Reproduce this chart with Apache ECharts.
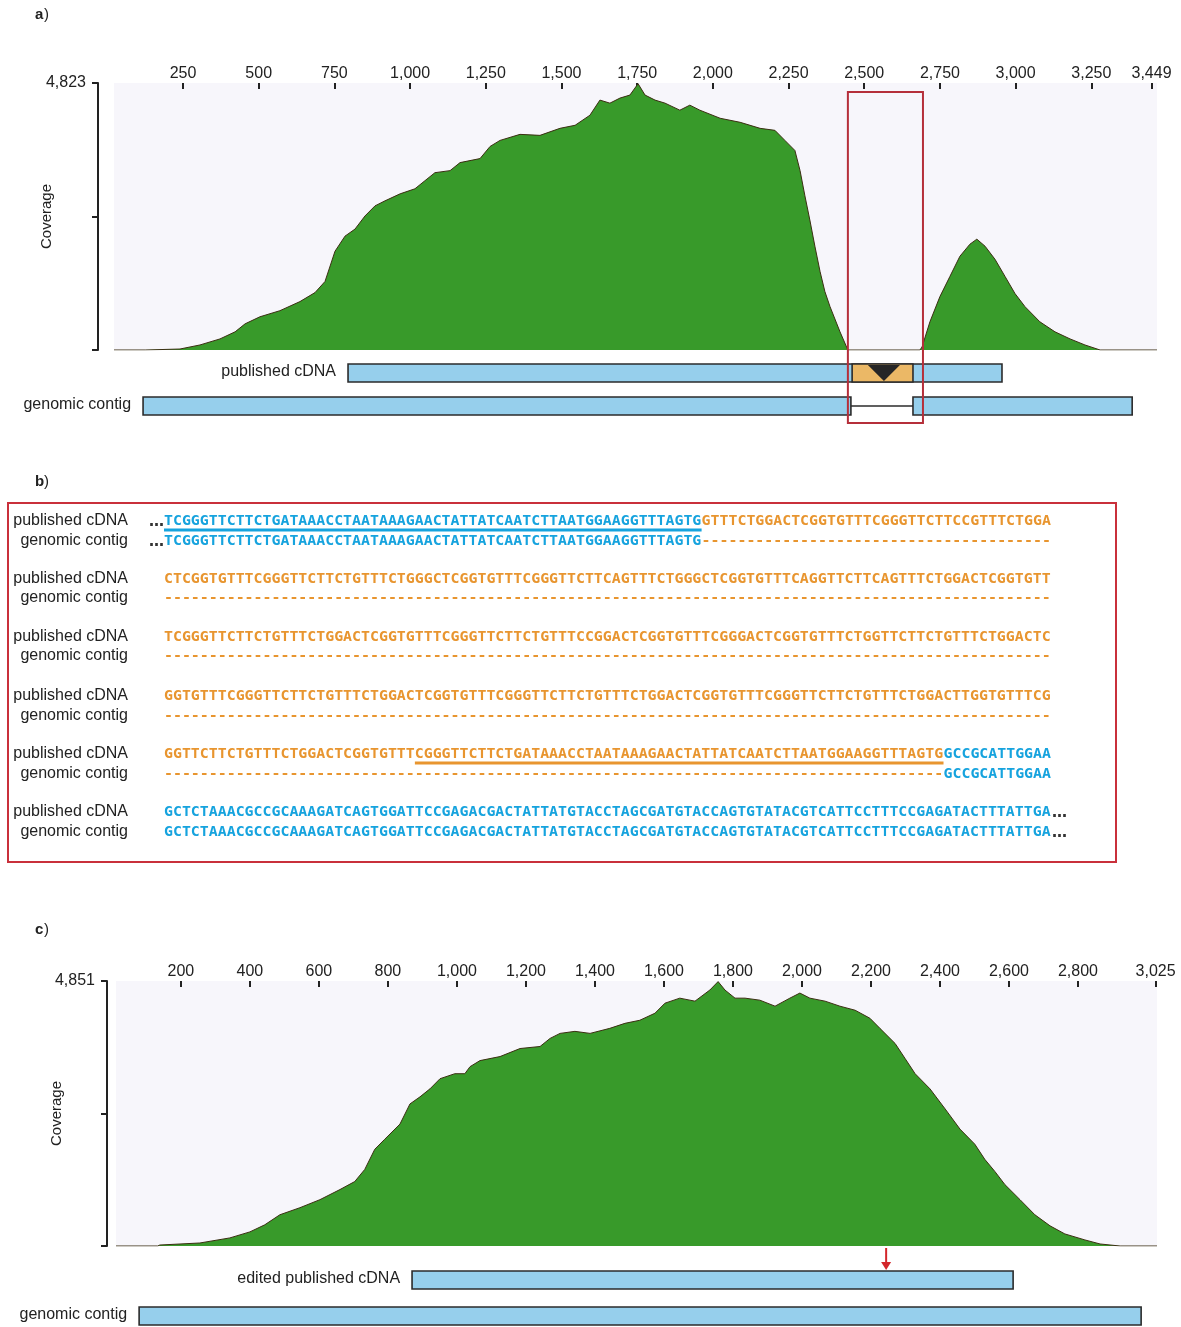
<!DOCTYPE html>
<html><head><meta charset="utf-8">
<script src="https://cdn.jsdelivr.net/npm/echarts@6/dist/echarts.min.js"></script>
<style>html,body{margin:0;padding:0;background:#fff}#c{width:1181px;height:1327px}</style>
</head><body><div id="c"></div>
<script>
// ---------- DATA ----------
// panel a coverage (position, coverage)
const covAPos = [22,125,240,306,372,422,455,504,570,636,686,719,752,785,818,851,884,917,967,1016,1049,1082,1132,1165,1231,1264,1297,1363,1429,1495,1545,1594,1627,1660,1693,1726,1753,1776,1809,1842,1891,1924,1957,2024,2090,2156,2205,2238,2271,2288,2304,2321,2337,2354,2370,2387,2420,2446,2684,2691,2717,2750,2783,2816,2849,2872,2899,2932,2965,2998,3031,3080,3130,3180,3229,3279,3467];
const covAVal = [0,0,18,91,200,328,473,600,710,874,1037,1238,1784,2057,2184,2421,2603,2694,2821,2912,3058,3203,3240,3385,3458,3676,3786,3895,3877,4004,4059,4241,4514,4459,4550,4605,4810,4605,4514,4459,4332,4423,4332,4186,4113,4004,3968,3786,3604,3240,2785,2330,1875,1420,1056,783,328,0,0,55,510,965,1329,1693,1911,2002,1875,1638,1329,1019,783,510,328,200,91,0,0];
const ticksA = [250,500,750,1000,1250,1500,1750,2000,2250,2500,2750,3000,3250,3449];
const maxA = 4823;
// panel a tracks
const tracksALabels = ['published cDNA', 'genomic contig'];
const barsA = [[795, 2955, 0], [118, 2456, 1], [2661, 3385, 1]];
const barsALabel = ['published cDNA', 'genomic contig', ''];
const insertA = [[2460, 2661, 0, 2512, 2618]];
const intronA = [[2456, 2661, 1]];
const boxA = [[2446, 2694, 0]];

// panel c coverage
const covCPos = [12,133,139,255,342,400,443,487,545,603,661,704,733,762,791,835,864,893,922,951,994,1023,1038,1067,1125,1183,1241,1270,1299,1342,1386,1443,1487,1530,1574,1603,1646,1690,1733,1757,1777,1806,1835,1878,1922,1965,1994,2023,2067,2110,2154,2197,2226,2270,2299,2328,2371,2415,2458,2501,2530,2559,2588,2632,2675,2719,2762,2820,2864,2922,3029];
const covCVal = [0,0,18,55,148,258,387,572,701,848,1033,1180,1402,1771,1955,2232,2601,2730,2877,3062,3154,3154,3283,3394,3468,3615,3652,3800,3892,3929,3892,3984,4076,4132,4261,4445,4537,4482,4685,4840,4685,4537,4537,4500,4390,4537,4630,4537,4482,4390,4316,4169,3984,3707,3431,3154,2877,2509,2140,1863,1586,1365,1125,848,572,369,221,111,37,0,0];
const ticksC = [200,400,600,800,1000,1200,1400,1600,1800,2000,2200,2400,2600,2800,3025];
const maxC = 4851;
// panel c tracks
const barsC = [[870, 2612, 0], [79, 2983, 1]];
const barsCLabel = ['edited published cDNA', 'genomic contig'];
const arrowC = [[2244, 0]];

// panel b sequences
const seqCdna = [
  [['b','TCGGGTTCTTCTGATAAACCTAATAAAGAACTATTATCAATCTTAATGGAAGGTTTAGTG'],['o','GTTTCTGGACTCGGTGTTTCGGGTTCTTCCGTTTCTGGA']],
  [['o','CTCGGTGTTTCGGGTTCTTCTGTTTCTGGGCTCGGTGTTTCGGGTTCTTCAGTTTCTGGGCTCGGTGTTTCAGGTTCTTCAGTTTCTGGACTCGGTGTT']],
  [['o','TCGGGTTCTTCTGTTTCTGGACTCGGTGTTTCGGGTTCTTCTGTTTCCGGACTCGGTGTTTCGGGACTCGGTGTTTCTGGTTCTTCTGTTTCTGGACTC']],
  [['o','GGTGTTTCGGGTTCTTCTGTTTCTGGACTCGGTGTTTCGGGTTCTTCTGTTTCTGGACTCGGTGTTTCGGGTTCTTCTGTTTCTGGACTTGGTGTTTCG']],
  [['o','GGTTCTTCTGTTTCTGGACTCGGTGTTTCGGGTTCTTCTGATAAACCTAATAAAGAACTATTATCAATCTTAATGGAAGGTTTAGTG'],['b','GCCGCATTGGAA']],
  [['b','GCTCTAAACGCCGCAAAGATCAGTGGATTCCGAGACGACTATTATGTACCTAGCGATGTACCAGTGTATACGTCATTCCTTTCCGAGATACTTTATTGA']]
];
const seqGenomic = [
  [['b','TCGGGTTCTTCTGATAAACCTAATAAAGAACTATTATCAATCTTAATGGAAGGTTTAGTG'],['o','-'.repeat(39)]],
  [['o','-'.repeat(99)]],
  [['o','-'.repeat(99)]],
  [['o','-'.repeat(99)]],
  [['o','-'.repeat(87)],['b','GCCGCATTGGAA']],
  [['b','GCTCTAAACGCCGCAAAGATCAGTGGATTCCGAGACGACTATTATGTACCTAGCGATGTACCAGTGTATACGTCATTCCTTTCCGAGATACTTTATTGA']]
];
// underlines: [row, startChar, endChar, colour key]
const underlines = [[0, 0, 60, 'b'], [4, 28, 87, 'o']];
const leadDots = [0];
const tailDots = [5];

// ---------- STYLE / LAYOUT ----------
const C_BLUE = '#16a3de', C_ORANGE = '#e8952f', C_TXT = '#222';
const GREEN = '#389a2a', BAR = '#96cfec', EDGE = '#2b2b2b';
const SANS = '"Liberation Sans", Arial, sans-serif';
const MONO = '"DejaVu Sans Mono", monospace';

const cv = document.createElement('canvas').getContext('2d');
cv.font = 'bold 100px ' + MONO;
const w100 = cv.measureText('ACGT').width / 4;
const CW = 8.96;
const seqFS = CW / (w100 / 100);

const fmt = v => v.toLocaleString('en-US');

const chart = echarts.init(document.getElementById('c'), null, {renderer: 'canvas'});

function covAxes(min, max, ticks, ymax, off, gi, nameGap) {
  return {
    x: {type:'value', gridIndex: gi, position:'top', min, max,
      axisLine:{show:false, onZero:false}, splitLine:{show:false},
      axisTick:{show:true, inside:true, length:6, customValues: ticks, lineStyle:{color:'#222', width:2}},
      axisLabel:{show:true, customValues: ticks, formatter: fmt, fontSize:16, color:C_TXT, fontFamily:SANS, margin:1}},
    y: {type:'value', gridIndex: gi, min:0, max:ymax, position:'left', offset: off,
      axisLine:{show:true, onZero:false, lineStyle:{color:'#222', width:2}}, splitLine:{show:false},
      axisTick:{show:true, length:6, customValues:[0, ymax/2, ymax], lineStyle:{color:'#222', width:2}},
      axisLabel:{show:true, customValues:[ymax], formatter: fmt, fontSize:16, color:C_TXT, fontFamily:SANS, margin:12},
      name:'Coverage', nameLocation:'middle', nameRotate:90, nameGap: nameGap, nameMoveOverlap:false,
      nameTextStyle:{fontSize:15, color:C_TXT, fontFamily:SANS}}
  };
}
const axA = covAxes(22, 3467, ticksA, maxA, 16, 0, 44);
const axC = covAxes(12, 3029, ticksC, maxC, 9, 2, 43);

function trackX(min, max, gi) { return {type:'value', gridIndex:gi, min, max, show:false}; }
function trackY(gi) { return {type:'value', gridIndex:gi, min:0, max:1, inverse:true, show:false}; }

function barRender(labels) {
  return function(params, api) {
    const s = api.coord([api.value(0), api.value(2)]);
    const e = api.coord([api.value(1), api.value(2)]);
    const h = 18;
    const ch = [{type:'rect', shape:{x:s[0], y:s[1]-h/2, width:e[0]-s[0], height:h},
      style:{fill:BAR, stroke:EDGE, lineWidth:1.6}}];
    const lab = labels[params.dataIndex];
    if (lab) ch.push({type:'text', x:s[0]-12, y:s[1]-1, style:{text:lab, align:'right', verticalAlign:'middle',
      font:'16px ' + SANS, fill:C_TXT}});
    return {type:'group', children: ch};
  };
}

const zip = (a, b) => a.map((v, i) => [v, b[i]]);

const covSeries = (data, xi, yi) => ({
  type:'line', xAxisIndex:xi, yAxisIndex:yi, data, symbol:'none', smooth:false,
  lineStyle:{color:'#3b2e12', width:1}, areaStyle:{color:GREEN, opacity:1}, silent:true, z:3
});

// ---------- panel b graphics ----------
const gfx = [];
function panelLabel(ch, x, y) {
  gfx.push({type:'text', x, y, style:{text:ch, font:'bold 15px ' + SANS, fill:C_TXT, verticalAlign:'middle'}});
  gfx.push({type:'text', x:x+9, y, style:{text:')', font:'15px ' + SANS, fill:C_TXT, verticalAlign:'middle'}});
}
panelLabel('a', 35, 15);
panelLabel('b', 35, 482);
panelLabel('c', 35, 930);

gfx.push({type:'rect', shape:{x:8, y:503, width:1108, height:359}, style:{fill:'none', stroke:'#c9303b', lineWidth:2}});
const rowYc = [521, 579, 637, 696, 754, 812];
const rowYg = [541, 598, 656, 716, 774, 832];
const X0 = 164;
function drawRow(segs, y) {
  let n = 0;
  segs.forEach(([k, s]) => {
    gfx.push({type:'text', x: X0 + n*CW, y, style:{text:s, font:'bold ' + seqFS.toFixed(2) + 'px ' + MONO,
      fill: k === 'b' ? C_BLUE : C_ORANGE, verticalAlign:'middle'}});
    n += s.length;
  });
  return n;
}
seqCdna.forEach((segs, i) => {
  gfx.push({type:'text', x:128, y:rowYc[i], style:{text:'published cDNA', font:'16px ' + SANS, fill:C_TXT, align:'right', verticalAlign:'middle'}});
  gfx.push({type:'text', x:128, y:rowYg[i], style:{text:'genomic contig', font:'16px ' + SANS, fill:C_TXT, align:'right', verticalAlign:'middle'}});
  const n1 = drawRow(segs, rowYc[i]);
  const n2 = drawRow(seqGenomic[i], rowYg[i]);
  if (leadDots.includes(i)) {
    [rowYc[i], rowYg[i]].forEach(y => gfx.push({type:'text', x:X0, y:y+1, style:{text:'…', font:'bold 15px "DejaVu Sans"', fill:'#333', align:'right', verticalAlign:'middle'}}));
  }
  if (tailDots.includes(i)) {
    [[rowYc[i], n1], [rowYg[i], n2]].forEach(([y, n]) => gfx.push({type:'text', x:X0 + n*CW + 1, y:y+1, style:{text:'…', font:'bold 15px "DejaVu Sans"', fill:'#333', verticalAlign:'middle'}}));
  }
});
underlines.forEach(([r, a, b, k]) => {
  gfx.push({type:'rect', shape:{x:X0 + a*CW, y:rowYc[r] + 7.5, width:(b - a)*CW, height:3},
    style:{fill: k === 'b' ? C_BLUE : C_ORANGE}});
});

// ---------- OPTION ----------
const option = {
  animation:false,
  backgroundColor:'#ffffff',
  grid:[
    {left:114, right:24, top:83, height:267, show:true, backgroundColor:'#f7f6fb', borderWidth:0},
    {left:114, right:24, top:373, height:33},
    {left:116, right:24, top:981, height:265, show:true, backgroundColor:'#f7f6fb', borderWidth:0},
    {left:116, right:24, top:1280, height:36}
  ],
  xAxis:[axA.x, trackX(22, 3467, 1), axC.x, trackX(12, 3029, 3)],
  yAxis:[axA.y, trackY(1), axC.y, trackY(3)],
  series:[
    covSeries(zip(covAPos, covAVal), 0, 0),
    {type:'custom', xAxisIndex:1, yAxisIndex:1, data:barsA, clip:false, renderItem: barRender(barsALabel), z:4},
    {type:'custom', xAxisIndex:1, yAxisIndex:1, data:intronA, clip:false, z:4,
      renderItem:(p, api) => {
        const s = api.coord([api.value(0), api.value(2)]), e = api.coord([api.value(1), api.value(2)]);
        return {type:'line', shape:{x1:s[0], y1:s[1], x2:e[0], y2:e[1]}, style:{stroke:EDGE, lineWidth:1.5}};
      }},
    {type:'custom', xAxisIndex:1, yAxisIndex:1, data:insertA, clip:false, z:5,
      renderItem:(p, api) => {
        const s = api.coord([api.value(0), api.value(2)]), e = api.coord([api.value(1), api.value(2)]);
        const t1 = api.coord([api.value(3), api.value(2)]), t2 = api.coord([api.value(4), api.value(2)]);
        const h = 18, top = s[1] - h/2;
        return {type:'group', children:[
          {type:'rect', shape:{x:s[0], y:top, width:e[0]-s[0], height:h}, style:{fill:'#ebb866', stroke:EDGE, lineWidth:1.6}},
          {type:'polygon', shape:{points:[[t1[0], top+1], [t2[0], top+1], [(t1[0]+t2[0])/2, top+h-1]]}, style:{fill:'#262626'}}
        ]};
      }},
    {type:'custom', xAxisIndex:1, yAxisIndex:1, data:boxA, clip:false, z:6,
      renderItem:(p, api) => {
        const s = api.coord([api.value(0), api.value(2)]), e = api.coord([api.value(1), api.value(2)]);
        return {type:'rect', shape:{x:s[0], y:92, width:e[0]-s[0], height:331}, style:{fill:'none', stroke:'#b52f3a', lineWidth:2}};
      }},
    covSeries(zip(covCPos, covCVal), 2, 2),
    {type:'custom', xAxisIndex:3, yAxisIndex:3, data:barsC, clip:false, renderItem: barRender(barsCLabel), z:4},
    {type:'custom', xAxisIndex:3, yAxisIndex:3, data:arrowC, clip:false, z:6,
      renderItem:(p, api) => {
        const c = api.coord([api.value(0), api.value(1)]);
        const x = c[0], tip = c[1] - 10;
        return {type:'group', children:[
          {type:'line', shape:{x1:x, y1:1248, x2:x, y2:tip-6}, style:{stroke:'#d3262b', lineWidth:2}},
          {type:'polygon', shape:{points:[[x-5, tip-8], [x+5, tip-8], [x, tip]]}, style:{fill:'#d3262b'}}
        ]};
      }}
  ],
  graphic: gfx
};
chart.setOption(option);
</script>
</body></html>
